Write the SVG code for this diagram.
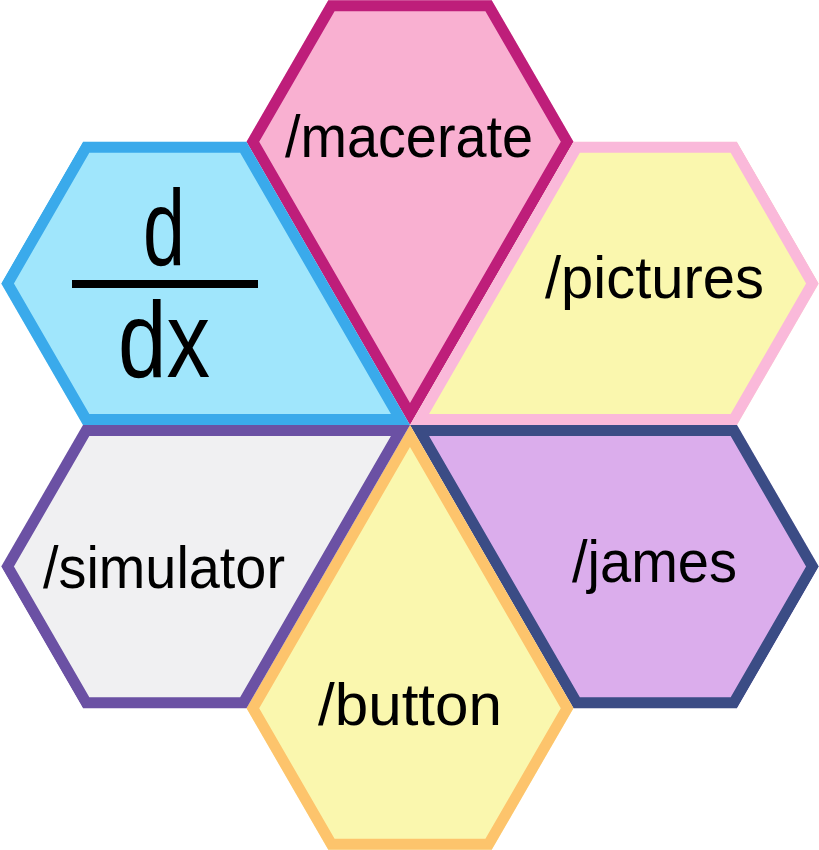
<svg xmlns="http://www.w3.org/2000/svg" width="819" height="850" viewBox="0 0 819 850">
<style>
.hex{stroke-width:22;stroke-linejoin:miter}
.lbl{font-family:"Liberation Sans",Arial,sans-serif;font-size:60px;fill:#000}
.big{font-family:"Liberation Sans",Arial,sans-serif;font-size:108px;fill:#000}
</style>
<defs>
<polygon id="shape" points="0,0 163.5,-283.2 81.75,-424.8 -81.75,-424.8 -163.5,-283.2"/>
<clipPath id="clip"><use href="#shape"/></clipPath>
</defs>
<rect width="819" height="850" fill="#fff"/>
<g id="connectors"></g>
<g id="macerate">
<use href="#shape" class="hex" transform="translate(410,425) rotate(0)" clip-path="url(#clip)" fill="#F9B0D1" stroke="#BE1E7A"/>
<text class="lbl" x="285" y="157" textLength="248" lengthAdjust="spacingAndGlyphs">/macerate</text>
</g>
<g id="pictures">
<use href="#shape" class="hex" transform="translate(410,425) rotate(60)" clip-path="url(#clip)" fill="#FAF7AE" stroke="#FAB9DA"/>
<text class="lbl" x="545" y="298" textLength="219" lengthAdjust="spacingAndGlyphs">/pictures</text>
</g>
<g id="james">
<use href="#shape" class="hex" transform="translate(410,425) rotate(120)" clip-path="url(#clip)" fill="#DBADEC" stroke="#3B4C85"/>
<text class="lbl" x="572" y="582" textLength="165" lengthAdjust="spacingAndGlyphs">/james</text>
</g>
<g id="button">
<use href="#shape" class="hex" transform="translate(410,425) rotate(180)" clip-path="url(#clip)" fill="#FAF7AE" stroke="#FDC46C"/>
<text class="lbl" x="318" y="725" textLength="184" lengthAdjust="spacingAndGlyphs">/button</text>
</g>
<g id="simulator">
<use href="#shape" class="hex" transform="translate(410,425) rotate(240)" clip-path="url(#clip)" fill="#F0F0F2" stroke="#6B51A4"/>
<text class="lbl" x="43" y="588" textLength="242" lengthAdjust="spacingAndGlyphs">/simulator</text>
</g>
<g id="ddx">
<use href="#shape" class="hex" transform="translate(410,425) rotate(300)" clip-path="url(#clip)" fill="#A0E6FC" stroke="#3AAAEB"/>
<text class="big" x="143" y="265" textLength="42" lengthAdjust="spacingAndGlyphs">d</text>
<rect x="72" y="280" width="186" height="8" fill="#000"/>
<text class="big" x="118" y="377" textLength="92" lengthAdjust="spacingAndGlyphs">dx</text>
</g>
</svg>
